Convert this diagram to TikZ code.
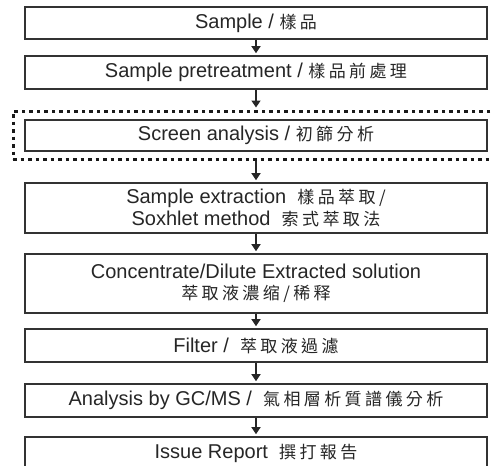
\documentclass[tikz,border=0pt]{standalone}
\usepackage{fontspec}
\setmainfont{Liberation Sans}
\newfontfamily\cjk[LetterSpace=20]{Noto Sans CJK TC}
\usetikzlibrary{arrows.meta}
\newcommand{\zh}[1]{{\cjk\fontsize{17}{21}\selectfont #1}}
\tikzset{
  stepbox/.style={draw=black!80, line width=1.6pt, fill=white, minimum width=462pt,
    inner sep=0pt, align=center, text=black!85, font=\fontsize{20}{21.5}\selectfont},
  frame/.style={draw=black!90, line width=3pt, dash pattern=on 3.5pt off 4pt,
    minimum width=492pt, minimum height=48pt, inner sep=0pt},
  flow/.style={draw=black!85, line width=1.5pt, -{Triangle[width=9pt,length=7pt]}, shorten >=2pt}
}
\begin{document}
\begin{tikzpicture}[x=1pt,y=-1pt]
\useasboundingbox (0,0) rectangle (493,466);
\clip (0,0) rectangle (493,466);
\node[frame] (fr) at (259,135) {};
\node[stepbox, minimum height=32pt] (b1) at (256,23) {Sample / \zh{樣品}};
\node[stepbox, minimum height=33pt] (b2) at (256,72.5) {Sample pretreatment / \zh{樣品前處理}};
\node[stepbox, minimum height=31pt] (b3) at (256,135.5) {Screen analysis / \zh{初篩分析}};
\node[stepbox, minimum height=50pt] (b4) at (256,208) {Sample extraction~ \zh{樣品萃取/}\\Soxhlet method~ \zh{索式萃取法}};
\node[stepbox, minimum height=59pt] (b5) at (256,283.5) {Concentrate/Dilute Extracted solution\\\zh{萃取液濃缩/稀释}};
\node[stepbox, minimum height=33pt] (b6) at (256,345.5) {Filter /~ \zh{萃取液過濾}};
\node[stepbox, minimum height=33pt] (b7) at (256,400.5) {Analysis by GC/MS /~ \zh{氣相層析質譜儀分析}};
\node[stepbox, minimum height=32pt] (b8) at (256,453) {Issue Report~ \zh{撰打報告}};
\draw[flow] (b1) -- (b2);
\draw[flow] (b2.south) -- (b2.south |- fr.north);
\draw[flow] (b3.south |- fr.south) -- (b4.north);
\draw[flow] (b4) -- (b5);
\draw[flow] (b5) -- (b6);
\draw[flow] (b6) -- (b7);
\draw[flow] (b7) -- (b8);
\end{tikzpicture}
\end{document}
